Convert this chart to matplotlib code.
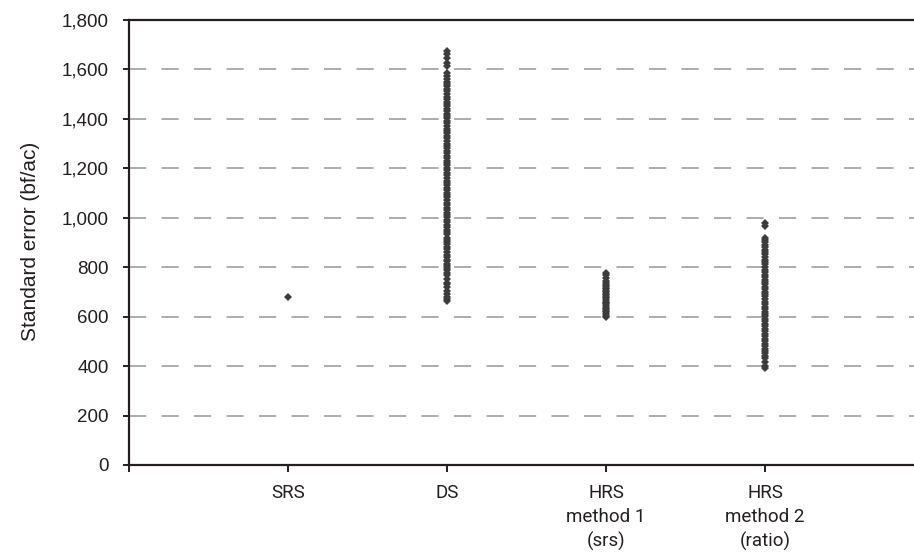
import numpy as np
import matplotlib.pyplot as plt
from matplotlib.ticker import FuncFormatter

categories = ['SRS', 'DS', 'HRS\nmethod 1\n(srs)', 'HRS\nmethod 2\n(ratio)']

srs = [680]

ds = [665, 672, 681, 690, 702, 718, 731, 737, 752, 768, 776, 789,
      795, 806, 812, 824, 831, 843, 851, 860, 872, 880, 893, 901, 912, 920,
      933, 941, 950, 962, 971, 983, 990, 1004, 1012, 1021, 1033, 1040, 1052,
      1061, 1070, 1083, 1091, 1100, 1113, 1120, 1131, 1142, 1150, 1162, 1171,
      1180, 1193, 1201, 1212, 1220, 1231, 1243, 1250, 1262, 1270, 1281, 1292,
      1300, 1311, 1322, 1330, 1341, 1352, 1360, 1371, 1383, 1390, 1402, 1410,
      1421, 1432, 1440, 1452, 1461, 1470, 1482, 1490, 1501, 1512, 1520, 1531,
      1543, 1550, 1561, 1572, 1584, 1613, 1627, 1646, 1662, 1674]

hrs1 = [598, 604, 611, 618, 624, 631, 637, 642, 650, 656, 661, 668, 674,
        680, 686, 692, 698, 705, 711, 717, 723, 730, 736, 744, 756, 768, 776]

hrs2 = [391, 402, 418, 431, 440, 452, 461, 470, 480, 491, 500, 511, 520,
        531, 540, 552, 561, 570, 581, 590, 602, 611, 620, 632, 641, 650, 661,
        670, 682, 690, 701, 712, 720, 731, 742, 750, 761, 770, 782, 790, 801,
        812, 820, 831, 840, 852, 861, 870, 881, 890, 902, 910, 918, 965, 978]

series = [srs, ds, hrs1, hrs2]

yticks = [0, 200, 400, 600, 800, 1000, 1200, 1400, 1600, 1800]

fig = plt.figure(figsize=(9.14, 5.57), dpi=100)
ax = fig.add_axes([0.1411, 0.1652, 0.8698, 0.7989])

ink = '#231f20'
for i, vals in enumerate(series):
    ax.plot(np.full(len(vals), i + 1), vals, 'D', color='#3c3c3c',
            markersize=4.2, markeredgewidth=0, zorder=3)

ax.set_xlim(0, 5)
ax.set_ylim(0, 1800)
ax.set_yticks(yticks)
ax.yaxis.set_major_formatter(FuncFormatter(lambda v, p: f'{int(v):,}'))
ax.set_xticks(range(6))
ax.set_xticklabels([''] + categories + [''], linespacing=1.4)

ax.grid(axis='y', color='#a6a6a6', linewidth=1.3, linestyle=(0, (9.5, 8.5)))
ax.set_axisbelow(True)

for s in ['left', 'bottom', 'top']:
    ax.spines[s].set_linewidth(1.6)
    ax.spines[s].set_color(ink)
ax.spines['right'].set_visible(False)

ax.tick_params(axis='y', direction='out', length=4.5, width=1.4, color=ink, pad=10,
               labelsize=13.5, labelfontfamily='Liberation Sans', labelcolor=ink)
ax.tick_params(axis='x', direction='out', length=5, width=1.4, color=ink, pad=9,
               labelsize=13.5, labelfontfamily='Roboto', labelcolor=ink)

fig.text(0.033, 0.567, 'Standard error (bf/ac)', rotation=90, va='center', ha='center',
         fontsize=15, family=['Liberation Sans', 'DejaVu Sans'], color=ink)

fig.savefig('out.png', dpi=100)
